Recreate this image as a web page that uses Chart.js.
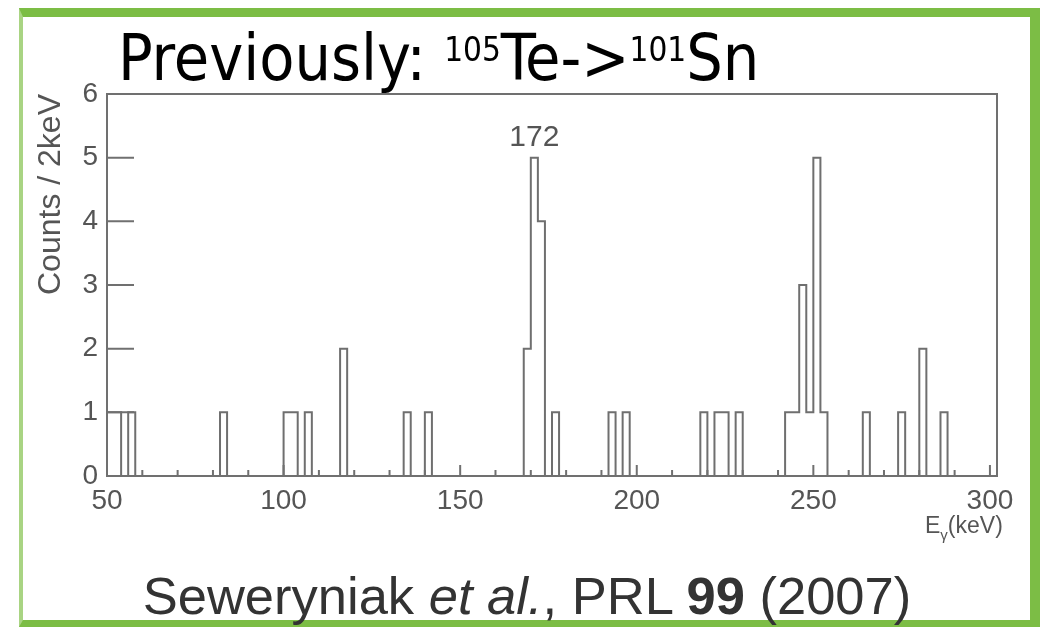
<!DOCTYPE html>
<html>
<head>
<meta charset="utf-8">
<script src="https://cdn.jsdelivr.net/npm/chart.js@4/dist/chart.umd.min.js"></script>
<style>
  html, body { margin: 0; padding: 0; background: #fff; }
  #wrap { position: relative; width: 1044px; height: 628px; overflow: hidden; background: #fff; }
  #chart { position: absolute; left: 0; top: 0; }
  .frame {
    position: absolute; left: 19px; top: 8px; width: 1007px; height: 603px;
    border-style: solid; border-color: #7cbd45;
    border-width: 9px 10px 7px 4px; border-left-color: #a9d483;
  }
  .title {
    position: absolute; left: 118px; top: 26px; white-space: nowrap;
    font-family: "DejaVu Sans Condensed", "Liberation Sans Narrow", "DejaVu Sans", sans-serif;
    font-size: 64px; line-height: 64px; color: #000;
  }
  .title .sup { font-size: 33px; position: relative; top: -19px; }
  .xtitle {
    position: absolute; left: 925px; top: 514px; white-space: nowrap;
    font-family: "Liberation Sans", Arial, sans-serif; font-size: 23px; line-height: 23px; color: #555;
  }
  .xtitle .sub { font-size: 15px; position: relative; top: 7px; }
  .cite {
    position: absolute; left: 0; width: 1054px; top: 570px; text-align: center; white-space: nowrap;
    font-family: "Liberation Sans", Arial, sans-serif; font-size: 52.5px; line-height: 52px; color: #333;
  }
</style>
</head>
<body>
<div id="wrap">
  <canvas id="chart" width="1044" height="628"></canvas>
  <div class="frame"></div>
  <div class="title">Previously: <span class="sup">105</span>Te-&gt;<span class="sup">101</span>Sn</div>
  <div class="xtitle">E<span class="sub">γ</span>(keV)</div>
  <div class="cite">Seweryniak <i>et al.</i>, PRL <b>99</b> (2007)</div>
</div>
<script>
// histogram: lower bin edge (keV) and counts, 2 keV bins
const binLow    = [50, 52, 56, 82, 100, 102, 106, 116, 134, 140, 168, 170, 172, 176, 192, 196,
                   218, 222, 224, 228, 242, 244, 246, 248, 250, 252, 264, 274, 280, 286];
const binCounts = [1, 1, 1, 1, 1, 1, 1, 2, 1, 1, 2, 5, 4, 1, 1, 1,
                   1, 1, 1, 1, 1, 1, 3, 1, 5, 1, 1, 1, 2, 1];
const binWidth = 2;
const xRange = [50, 302];
const yRange = [0, 6];
const xLabels = [50, 100, 150, 200, 250, 300];
const peakText = ['172'];
const peakAt = [171];
const peakCount = [5];

// full step series, one point per bin edge
const hist = [];
for (let e = xRange[0]; e < xRange[1]; e += binWidth) {
  const i = binLow.indexOf(e);
  hist.push({ x: e, y: i >= 0 ? binCounts[i] : 0 });
}
hist.push({ x: xRange[1], y: 0 });

const whole = v => Math.abs(v - Math.round(v)) < 1e-6 ? Math.round(v) : null;

Chart.defaults.font.family = '"Liberation Sans", Arial, sans-serif';
Chart.defaults.color = '#555';

// box, inward ticks and peak label
const frameTicks = {
  id: 'frameTicks',
  afterDatasetsDraw(chart) {
    const { ctx, chartArea: a, scales: { x, y } } = chart;
    ctx.save();
    ctx.strokeStyle = '#707070';
    ctx.lineWidth = 2;
    ctx.strokeRect(a.left, a.top, a.right - a.left, a.bottom - a.top);
    ctx.beginPath();
    x.ticks.forEach(t => {
      const v = whole(t.value);
      if (v === null || v % 10) return;
      const px = x.getPixelForValue(v);
      const len = v % 50 === 0 ? 11 : 6;
      ctx.moveTo(px, a.bottom); ctx.lineTo(px, a.bottom - len);
    });
    y.ticks.forEach(t => {
      const py = y.getPixelForValue(t.value);
      ctx.moveTo(a.left, py); ctx.lineTo(a.left + 27, py);
    });
    ctx.stroke();
    ctx.fillStyle = '#555';
    ctx.font = '30px "Liberation Sans", Arial, sans-serif';
    ctx.textAlign = 'center';
    ctx.textBaseline = 'alphabetic';
    peakText.forEach((s, i) => {
      ctx.fillText(s, x.getPixelForValue(peakAt[i]), y.getPixelForValue(peakCount[i]) - 12);
    });
    ctx.restore();
  }
};

new Chart(document.getElementById('chart').getContext('2d'), {
  type: 'line',
  data: {
    datasets: [{
      data: hist,
      stepped: true,
      borderColor: '#6f6f6f',
      borderWidth: 2,
      pointRadius: 0,
      fill: false
    }]
  },
  options: {
    responsive: false,
    animation: false,
    devicePixelRatio: 1,
    layout: { padding: { top: 94, right: 47, left: 0, bottom: 0 } },
    plugins: { legend: { display: false }, tooltip: { enabled: false } },
    scales: {
      x: {
        type: 'linear', min: xRange[0], max: xRange[1],
        grid: { display: false }, border: { display: false },
        ticks: {
          stepSize: 10, includeBounds: false, autoSkip: false, maxRotation: 0, padding: 0,
          font: { size: 28 }, color: '#555',
          callback: v => xLabels.includes(whole(v)) ? String(whole(v)) : ''
        },
        afterFit: s => { s.height = 152; }
      },
      y: {
        min: yRange[0], max: yRange[1],
        grid: { display: false }, border: { display: false },
        ticks: { stepSize: 1, padding: 1, font: { size: 28 }, color: '#555' },
        title: {
          display: true, text: 'Counts / 2keV', align: 'end',
          font: { size: 32 }, color: '#555', padding: { top: 32, bottom: 0 }
        },
        afterFit: s => { s.width = 107; }
      }
    }
  },
  plugins: [frameTicks]
});
</script>
</body>
</html>
